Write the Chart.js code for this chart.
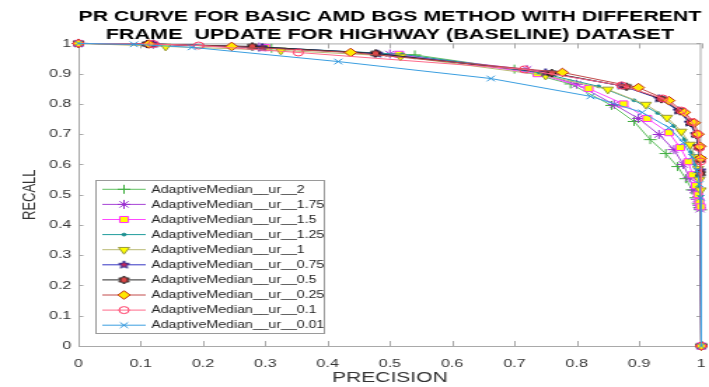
<!DOCTYPE html>
<html>
<head>
<meta charset="utf-8">
<script src="https://cdn.jsdelivr.net/npm/chart.js@4.4.1/dist/chart.umd.min.js"></script>
<style>
  html, body { margin: 0; padding: 0; background: #fff; overflow: hidden; }
  #prChart { display: block; }
</style>
</head>
<body>
<canvas id="prChart"></canvas>
<script>
// --- data (precision on x, recall on y) ---
const seriesNames = [
  'AdaptiveMedian__ur__2', 'AdaptiveMedian__ur__1.75', 'AdaptiveMedian__ur__1.5',
  'AdaptiveMedian__ur__1.25', 'AdaptiveMedian__ur__1', 'AdaptiveMedian__ur__0.75',
  'AdaptiveMedian__ur__0.5', 'AdaptiveMedian__ur__0.25', 'AdaptiveMedian__ur__0.1',
  'AdaptiveMedian__ur__0.01'
];

const precUr2   = [0, 0.12, 0.31, 0.54, 0.70, 0.79, 0.856, 0.892, 0.918, 0.943, 0.962, 0.975, 0.985, 0.991, 0.995, 0.997, 0.999, 1];
const recUr2    = [1, 0.998, 0.984, 0.962, 0.915, 0.866, 0.795, 0.742, 0.682, 0.636, 0.593, 0.553, 0.516, 0.49, 0.47, 0.458, 0.45, 0];
const precUr175 = [0, 0.12, 0.29, 0.50, 0.72, 0.80, 0.86, 0.899, 0.932, 0.956, 0.971, 0.981, 0.988, 0.993, 0.996, 0.998, 1];
const recUr175  = [1, 0.998, 0.988, 0.965, 0.914, 0.865, 0.798, 0.752, 0.699, 0.649, 0.60, 0.556, 0.515, 0.485, 0.465, 0.452, 0];
const precUr15  = [0, 0.115, 0.30, 0.515, 0.737, 0.819, 0.875, 0.913, 0.948, 0.966, 0.979, 0.986, 0.991, 0.995, 0.997, 0.999, 1];
const recUr15   = [1, 0.998, 0.986, 0.964, 0.90, 0.851, 0.80, 0.752, 0.705, 0.656, 0.609, 0.566, 0.53, 0.50, 0.477, 0.46, 0];
const precUr125 = [0, 0.12, 0.30, 0.52, 0.74, 0.835, 0.892, 0.93, 0.956, 0.973, 0.984, 0.99, 0.994, 0.997, 0.999, 1];
const recUr125  = [1, 0.998, 0.987, 0.964, 0.903, 0.858, 0.812, 0.77, 0.727, 0.683, 0.64, 0.60, 0.56, 0.525, 0.495, 0];
const precUr1   = [0, 0.14, 0.325, 0.517, 0.75, 0.85, 0.911, 0.945, 0.968, 0.982, 0.99, 0.995, 0.997, 0.999, 1];
const recUr1    = [1, 0.99, 0.977, 0.957, 0.894, 0.848, 0.798, 0.755, 0.709, 0.666, 0.625, 0.586, 0.55, 0.515, 0];
const precUr075 = [0, 0.12, 0.295, 0.48, 0.75, 0.872, 0.932, 0.963, 0.981, 0.991, 0.995, 0.998, 0.999, 1];
const recUr075  = [1, 0.998, 0.987, 0.966, 0.904, 0.86, 0.818, 0.778, 0.738, 0.70, 0.66, 0.62, 0.58, 0];
const precUr05  = [0, 0.11, 0.279, 0.477, 0.76, 0.88, 0.936, 0.966, 0.983, 0.992, 0.996, 0.998, 0.999, 1];
const recUr05   = [1, 0.998, 0.99, 0.967, 0.902, 0.857, 0.816, 0.776, 0.737, 0.698, 0.657, 0.615, 0.57, 0];
const precUr025 = [0, 0.113, 0.246, 0.437, 0.777, 0.899, 0.948, 0.973, 0.989, 0.995, 0.998, 0.999, 1];
const recUr025  = [1, 0.998, 0.99, 0.97, 0.904, 0.854, 0.811, 0.772, 0.738, 0.70, 0.66, 0.62, 0];
const precUr01  = [0, 0.12, 0.193, 0.353, 0.716, 0.872, 0.938, 0.968, 0.985, 0.993, 0.997, 0.999, 1];
const recUr01   = [1, 0.998, 0.993, 0.97, 0.914, 0.861, 0.818, 0.778, 0.74, 0.70, 0.655, 0.61, 0];
const precUr001 = [0, 0.089, 0.182, 0.417, 0.662, 0.822, 0.905, 0.948, 0.971, 0.985, 0.993, 0.997, 0.999, 1];
const recUr001  = [1, 0.997, 0.987, 0.94, 0.884, 0.825, 0.772, 0.722, 0.672, 0.625, 0.58, 0.535, 0.49, 0];

const tickValues = [0, 0.1, 0.2, 0.3, 0.4, 0.5, 0.6, 0.7, 0.8, 0.9, 1];
const tickLabels = ['0', '0.1', '0.2', '0.3', '0.4', '0.5', '0.6', '0.7', '0.8', '0.9', '1'];
const titleLines = ['PR CURVE FOR BASIC AMD BGS METHOD WITH DIFFERENT', 'FRAME  UPDATE FOR HIGHWAY (BASELINE) DATASET'];

// the original figure is stretched sideways, so draw narrow and widen with css
const STRETCH = 1.4;
const FONT = "'Liberation Sans', Arial, sans-serif";
const AXIS_GRAY = '#a9a9a9';

function starMarker(points, size, inner, stroke, fill) {
  const c = document.createElement('canvas');
  c.width = c.height = size + 2;
  const g = c.getContext('2d');
  const cx = c.width / 2, cy = c.height / 2, ro = size / 2, ri = ro * inner;
  g.beginPath();
  for (let k = 0; k < points * 2; k++) {
    const r = k % 2 ? ri : ro;
    const a = -Math.PI / 2 + k * Math.PI / points;
    g.lineTo(cx + r * Math.cos(a), cy + r * Math.sin(a));
  }
  g.closePath();
  g.fillStyle = fill; g.fill();
  g.strokeStyle = stroke; g.lineWidth = 1; g.stroke();
  return c;
}

const pentagram = starMarker(5, 8, 0.45, '#1c1c8c', '#c8285a');
const hexagram = starMarker(6, 8, 0.6, '#111111', '#e04848');

const styles = [
  { line: '#62c062', edge: '#3fae3f', fill: '#3fae3f', point: 'cross', r: 4.5 },
  { line: '#a745d6', edge: '#9a2fd0', fill: '#9a2fd0', point: 'star', r: 4.5 },
  { line: '#ff48ff', edge: '#ff30ff', fill: '#ffff00', point: 'rect', r: 4.3 },
  { line: '#1f9c9c', edge: '#1a8f8f', fill: '#1a8f8f', point: 'circle', r: 1.4 },
  { line: '#b9b974', edge: '#9a9a3a', fill: '#ffff00', point: 'triangle', r: 4.5, rot: 180 },
  { line: '#3535c4', edge: '#1c1c8c', fill: '#c8285a', point: pentagram, r: 4 },
  { line: '#2b2b2b', edge: '#111111', fill: '#e04848', point: hexagram, r: 4 },
  { line: '#c24a4a', edge: '#c02a10', fill: '#ffe800', point: 'rectRot', r: 4.3 },
  { line: '#ff6a8a', edge: '#ff3a66', fill: 'rgba(0,0,0,0)', point: 'circle', r: 3.5 },
  { line: '#3a9ee0', edge: '#2d95dc', fill: '#2d95dc', point: 'crossRot', r: 4 }
];

const precision = [precUr2, precUr175, precUr15, precUr125, precUr1, precUr075, precUr05, precUr025, precUr01, precUr001];
const recall = [recUr2, recUr175, recUr15, recUr125, recUr1, recUr075, recUr05, recUr025, recUr01, recUr001];

const datasets = seriesNames.map((name, i) => {
  const s = styles[i];
  return {
    label: name,
    data: precision[i].map((p, k) => ({ x: p, y: recall[i][k] })),
    showLine: true,
    borderColor: s.line,
    borderWidth: 1,
    pointStyle: s.point,
    pointRadius: s.r,
    pointRotation: s.rot || 0,
    pointBorderColor: s.edge,
    pointBackgroundColor: s.fill,
    pointBorderWidth: 1,
    clip: false,
    order: -i
  };
});

// box around the plot + inward ticks, matlab style
const framePlugin = {
  id: 'frame',
  beforeDatasetsDraw(chart) {
    const { ctx, chartArea: a, scales } = chart;
    ctx.save();
    ctx.strokeStyle = AXIS_GRAY;
    ctx.lineWidth = 1;
    ctx.strokeRect(a.left + 0.5, a.top + 0.5, a.right - a.left - 1, a.bottom - a.top);
    ctx.beginPath();
    tickValues.forEach(v => {
      const x = Math.round(scales.x.getPixelForValue(v)) + 0.5;
      ctx.moveTo(x, a.bottom); ctx.lineTo(x, a.bottom - 5);
      ctx.moveTo(x, a.top); ctx.lineTo(x, a.top + 5);
      const y = Math.round(scales.y.getPixelForValue(v)) + 0.5;
      ctx.moveTo(a.left, y); ctx.lineTo(a.left + 3.5, y);
      ctx.moveTo(a.right, y); ctx.lineTo(a.right - 3.5, y);
    });
    ctx.stroke();
    ctx.restore();
  }
};

// legend inside the axes, lower left
const legendPlugin = {
  id: 'boxLegend',
  afterDatasetsDraw(chart) {
    const ctx = chart.ctx;
    const bx = 68, by = 180, bw = 163, bh = 153;
    const rowTop = 189.3, rowGap = 15.1;
    ctx.save();
    ctx.fillStyle = '#fff';
    ctx.fillRect(bx, by, bw, bh);
    ctx.strokeStyle = '#9a9a9a';
    ctx.lineWidth = 1;
    ctx.strokeRect(bx + 0.5, by + 0.5, bw, bh);
    chart.data.datasets.forEach((ds, i) => {
      const y = rowTop + i * rowGap;
      ctx.strokeStyle = ds.borderColor;
      ctx.lineWidth = 1;
      ctx.beginPath();
      ctx.moveTo(73, y); ctx.lineTo(104, y);
      ctx.stroke();
      ctx.fillStyle = ds.pointBackgroundColor;
      ctx.strokeStyle = ds.pointBorderColor;
      ctx.lineWidth = ds.pointBorderWidth;
      Chart.helpers.drawPoint(ctx, {
        pointStyle: ds.pointStyle, rotation: ds.pointRotation,
        radius: ds.pointRadius, borderWidth: ds.pointBorderWidth
      }, 88.5, y);
      ctx.fillStyle = '#262626';
      ctx.font = '10.1px ' + FONT;
      ctx.textBaseline = 'middle';
      ctx.fillText(ds.label, 108, y + 0.5);
    });
    ctx.restore();
  }
};

const canvas = document.getElementById('prChart');
canvas.width = Math.round(709 / STRETCH);
canvas.height = 387;
// inline style so chart.js leaves the css size alone
canvas.style.width = '709px';
canvas.style.height = '387px';

const tickFont = { family: FONT, size: 11.5 };

new Chart(canvas.getContext('2d'), {
  type: 'scatter',
  data: { datasets },
  options: {
    responsive: false,
    animation: false,
    devicePixelRatio: 1,
    layout: { padding: 0 },
    plugins: {
      legend: { display: false },
      tooltip: { enabled: false },
      title: {
        display: true,
        fullSize: false,
        text: titleLines,
        color: '#000',
        font: { family: FONT, size: 15.4, weight: 'bold', lineHeight: 1.15 },
        padding: { top: 8, bottom: 0 }
      }
    },
    scales: {
      x: {
        type: 'linear', min: 0, max: 1,
        afterBuildTicks(s) { s.ticks = tickValues.map(v => ({ value: v })); },
        afterFit(s) { s.height = 41; s.paddingLeft = 0; s.paddingRight = 0; },
        grid: { display: false, drawTicks: false },
        border: { display: false },
        ticks: { autoSkip: false, maxRotation: 0, padding: 11, color: '#333', font: tickFont,
                 callback: (v, i) => tickLabels[i] },
        title: { display: true, text: 'PRECISION', color: '#333',
                 font: { family: FONT, size: 15 }, padding: { top: 0, bottom: 0 } }
      },
      y: {
        type: 'linear', min: 0, max: 1,
        afterBuildTicks(s) { s.ticks = tickValues.map(v => ({ value: v })); },
        afterFit(s) { s.width = 56; },
        grid: { display: false, drawTicks: false },
        border: { display: false },
        ticks: { autoSkip: false, padding: 5, color: '#333', font: tickFont,
                 callback: (v, i) => tickLabels[i] },
        title: { display: true, text: 'RECALL', color: '#333',
                 font: { family: FONT, size: 13 }, padding: { top: 14, bottom: 0 } }
      }
    }
  },
  plugins: [framePlugin, legendPlugin]
});
</script>
</body>
</html>
